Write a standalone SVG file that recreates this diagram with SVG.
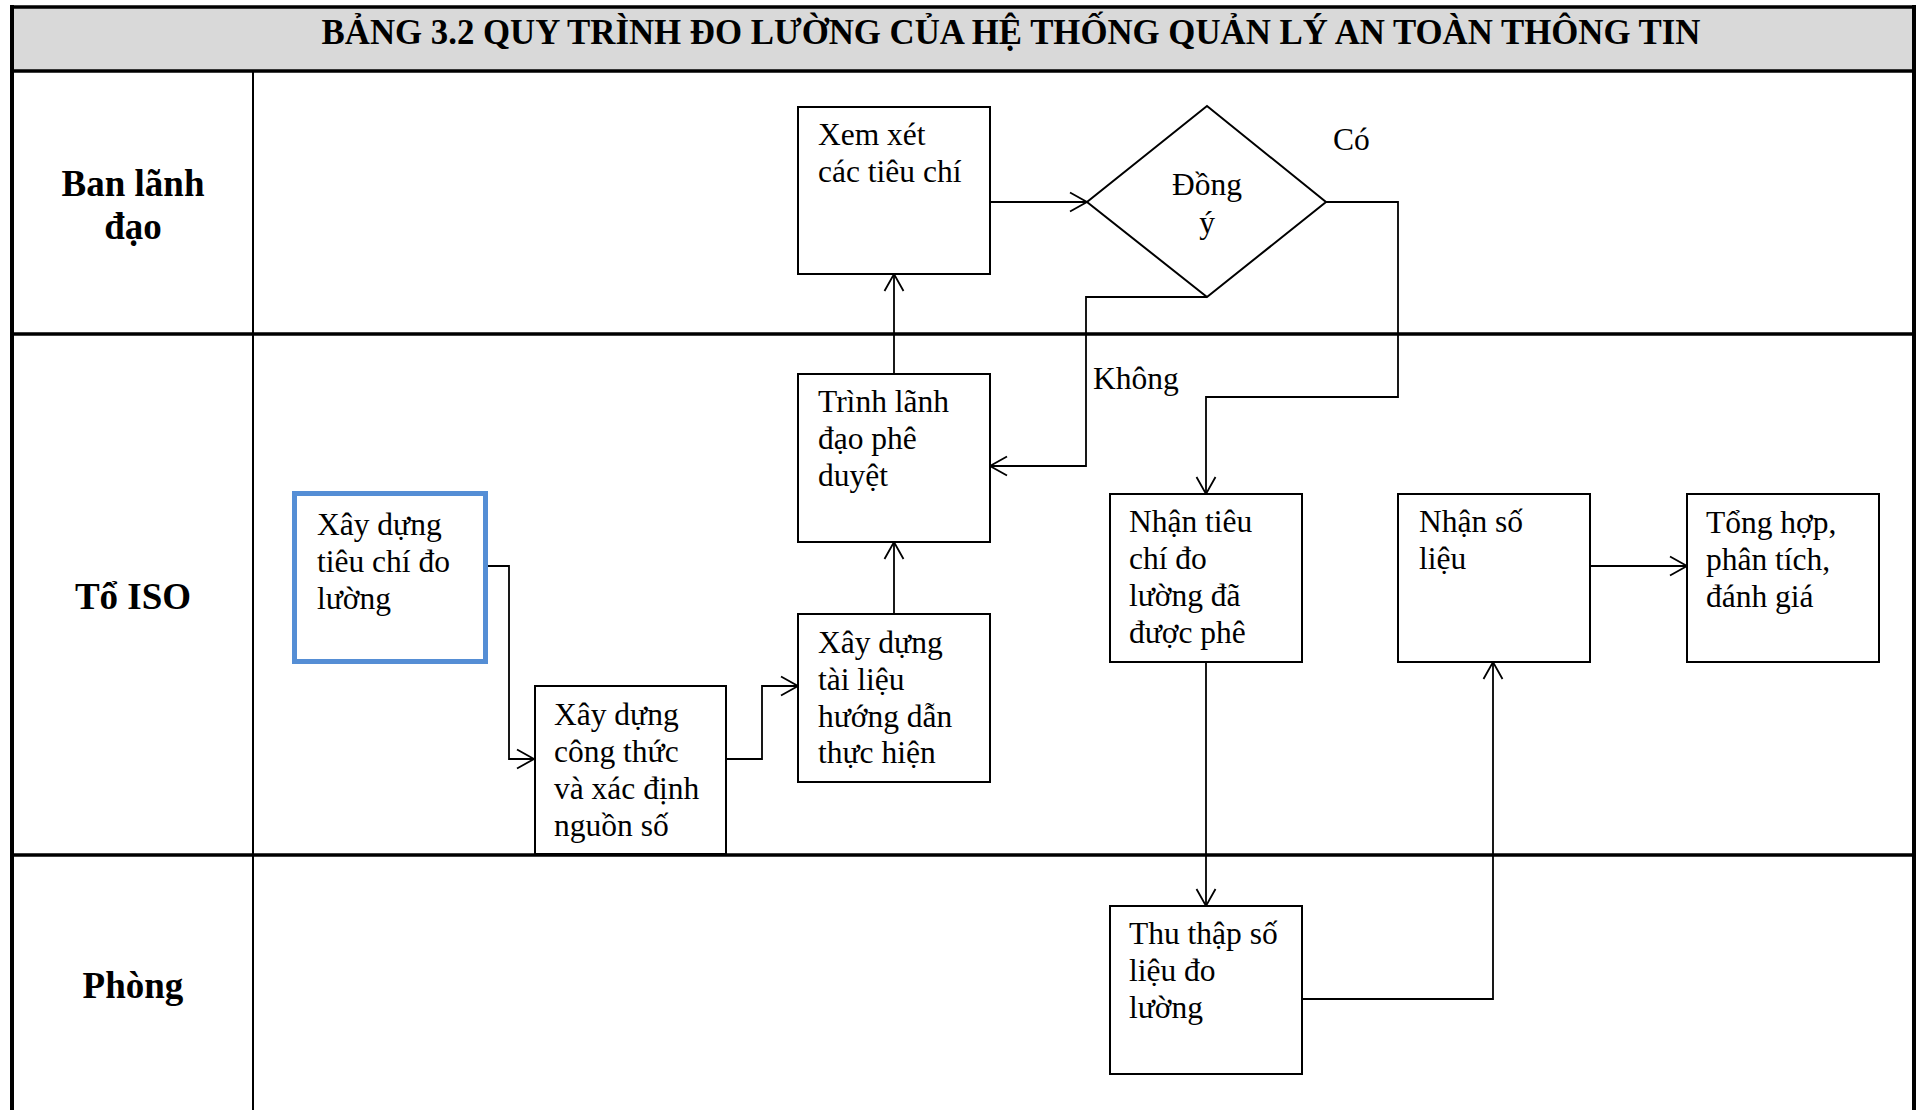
<svg xmlns="http://www.w3.org/2000/svg" width="1919" height="1110" viewBox="0 0 1919 1110">
<defs>
<style>
.frame{fill:none;stroke:#000;stroke-width:4}
.lane{stroke:#000;stroke-width:3.5}
.col{stroke:#000;stroke-width:2}
.box{fill:#fff;stroke:#000;stroke-width:2}
.boxb{fill:#fff;stroke:#558ED5;stroke-width:5}
.t{font-family:"Liberation Serif","Times New Roman",serif;font-size:31.5px;fill:#000}
.lab{font-family:"Liberation Serif","Times New Roman",serif;font-size:37px;font-weight:bold;fill:#000;text-anchor:middle}
.title{font-family:"Liberation Serif","Times New Roman",serif;font-size:34.8px;font-weight:bold;fill:#000;text-anchor:middle}
.c{fill:none;stroke:#000;stroke-width:1.8}
</style>
<marker id="ah" viewBox="0 0 22 22" refX="19" refY="11" markerWidth="22" markerHeight="22" markerUnits="userSpaceOnUse" orient="auto">
<path d="M2,1.5 L19,11 L2,20.5" fill="none" stroke="#000" stroke-width="1.8"/>
</marker>
</defs>
<rect x="0" y="0" width="1919" height="1110" fill="#fff"/>
<g id="table">
<rect x="11" y="7" width="1903" height="64" fill="#D9D9D9"/>
<text class="title" x="1011" y="44">BẢNG 3.2 QUY TRÌNH ĐO LƯỜNG CỦA HỆ THỐNG QUẢN LÝ AN TOÀN THÔNG TIN</text>
<line class="lane" x1="11" y1="7" x2="1914" y2="7"/>
<line class="lane" x1="11" y1="71" x2="1914" y2="71"/>
<line class="lane" x1="11" y1="334" x2="1914" y2="334"/>
<line class="lane" x1="11" y1="855" x2="1914" y2="855"/>
<line class="frame" x1="12" y1="5" x2="12" y2="1110"/>
<line class="frame" x1="1914" y1="5" x2="1914" y2="1110"/>
<line class="col" x1="253" y1="71" x2="253" y2="1110"/>
<text class="lab" x="133" y="196">Ban lãnh</text>
<text class="lab" x="133" y="239">đạo</text>
<text class="lab" x="133" y="609">Tổ ISO</text>
<text class="lab" x="133" y="998">Phòng</text>
</g>
<g id="connectors">
<polyline class="c" points="488,566 509,566 509,759 534,759" marker-end="url(#ah)"/>
<polyline class="c" points="726,759 762,759 762,686 798,686" marker-end="url(#ah)"/>
<line class="c" x1="894" y1="614" x2="894" y2="542" marker-end="url(#ah)"/>
<line class="c" x1="894" y1="374" x2="894" y2="274" marker-end="url(#ah)"/>
<line class="c" x1="990" y1="202" x2="1087" y2="202" marker-end="url(#ah)"/>
<polyline class="c" points="1207,297 1086,297 1086,466 990,466" marker-end="url(#ah)"/>
<polyline class="c" points="1326,202 1398,202 1398,397 1206,397 1206,494" marker-end="url(#ah)"/>
<line class="c" x1="1206" y1="662" x2="1206" y2="906" marker-end="url(#ah)"/>
<polyline class="c" points="1302,999 1493,999 1493,662" marker-end="url(#ah)"/>
<line class="c" x1="1590" y1="566" x2="1687" y2="566" marker-end="url(#ah)"/>
<text class="t" x="1333" y="150">Có</text>
<text class="t" x="1093" y="389">Không</text>
</g>
<g id="n1">
<rect class="box" x="798" y="107" width="192" height="167"/>
<text class="t"><tspan x="818" y="145">Xem xét</tspan><tspan x="818" y="182">các tiêu chí</tspan></text>
</g>
<g id="n2">
<polygon class="box" points="1207,106 1326,202 1207,297 1087,202"/>
<text class="t" text-anchor="middle"><tspan x="1207" y="195">Đồng</tspan><tspan x="1207" y="233">ý</tspan></text>
</g>
<g id="n3">
<rect class="box" x="798" y="374" width="192" height="168"/>
<text class="t"><tspan x="818" y="412">Trình lãnh</tspan><tspan x="818" y="449">đạo phê</tspan><tspan x="818" y="486">duyệt</tspan></text>
</g>
<g id="n4">
<rect class="boxb" x="294.5" y="493.5" width="191" height="168"/>
<text class="t"><tspan x="317" y="535">Xây dựng</tspan><tspan x="317" y="572">tiêu chí đo</tspan><tspan x="317" y="609">lường</tspan></text>
</g>
<g id="n5">
<rect class="box" x="535" y="686" width="191" height="168"/>
<text class="t"><tspan x="554" y="725">Xây dựng</tspan><tspan x="554" y="762">công thức</tspan><tspan x="554" y="799">và xác định</tspan><tspan x="554" y="836">nguồn số</tspan></text>
</g>
<g id="n6">
<rect class="box" x="798" y="614" width="192" height="168"/>
<text class="t"><tspan x="818" y="653">Xây dựng</tspan><tspan x="818" y="690">tài liệu</tspan><tspan x="818" y="727">hướng dẫn</tspan><tspan x="818" y="763">thực hiện</tspan></text>
</g>
<g id="n7">
<rect class="box" x="1110" y="494" width="192" height="168"/>
<text class="t"><tspan x="1129" y="532">Nhận tiêu</tspan><tspan x="1129" y="569">chí đo</tspan><tspan x="1129" y="606">lường đã</tspan><tspan x="1129" y="643">được phê</tspan></text>
</g>
<g id="n8">
<rect class="box" x="1398" y="494" width="192" height="168"/>
<text class="t"><tspan x="1419" y="532">Nhận số</tspan><tspan x="1419" y="569">liệu</tspan></text>
</g>
<g id="n9">
<rect class="box" x="1687" y="494" width="192" height="168"/>
<text class="t"><tspan x="1706" y="533">Tổng hợp,</tspan><tspan x="1706" y="570">phân tích,</tspan><tspan x="1706" y="607">đánh giá</tspan></text>
</g>
<g id="n10">
<rect class="box" x="1110" y="906" width="192" height="168"/>
<text class="t"><tspan x="1129" y="944">Thu thập số</tspan><tspan x="1129" y="981">liệu đo</tspan><tspan x="1129" y="1018">lường</tspan></text>
</g>
</svg>
